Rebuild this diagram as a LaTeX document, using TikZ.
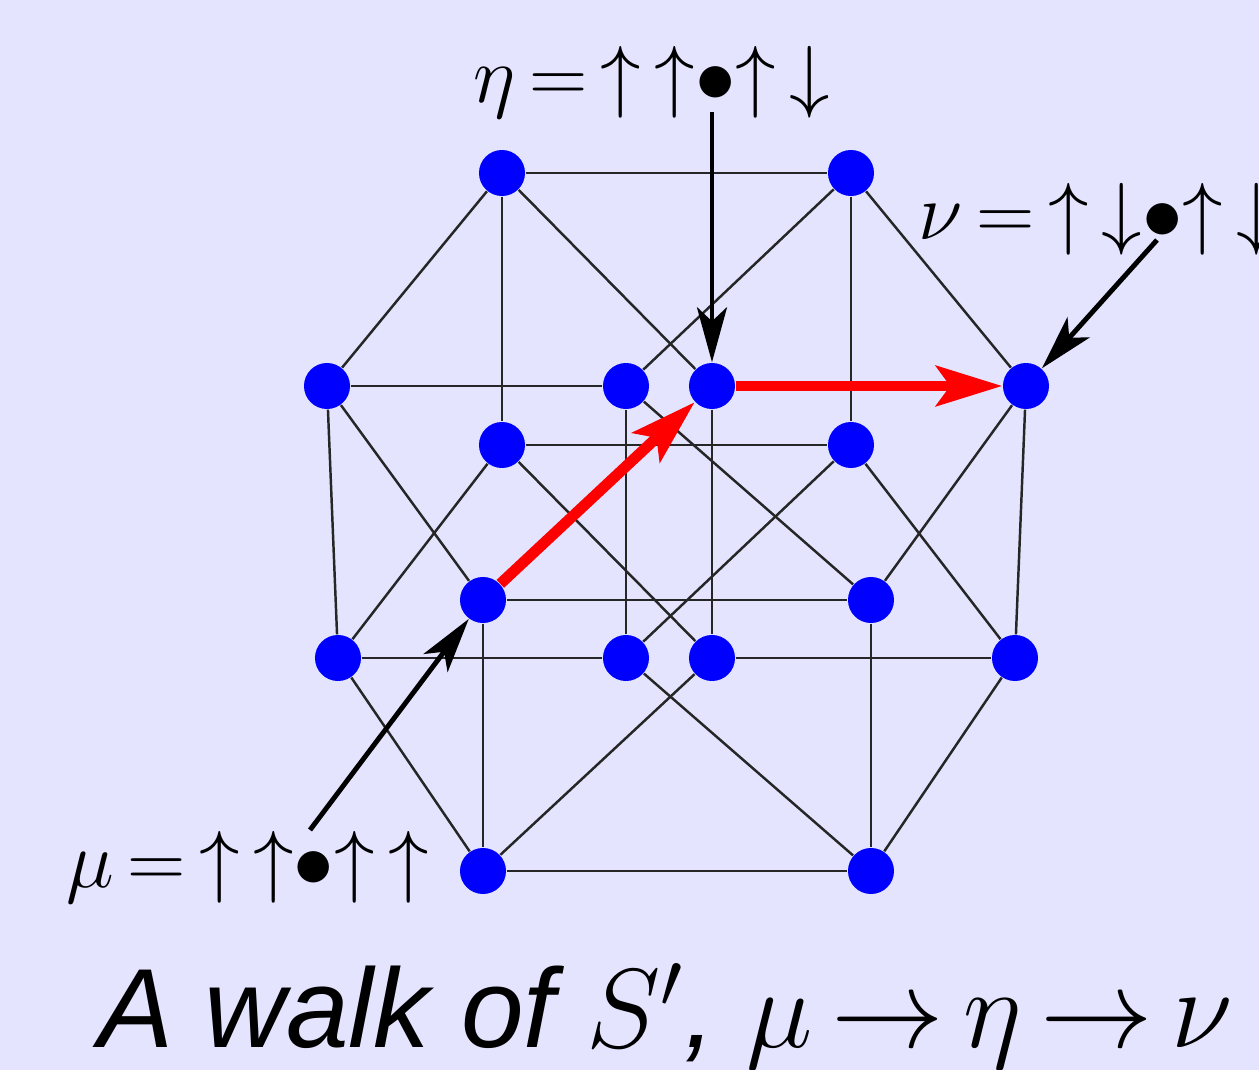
\RequirePackage{fix-cm}
\documentclass[tikz,border=0pt]{standalone}
\usepackage{fontspec}
\setsansfont{Liberation Sans}
\usepackage{amsmath,amssymb}
\usetikzlibrary{arrows.meta,positioning}
\definecolor{bgcol}{RGB}{228,228,255}

\begin{document}
\begin{tikzpicture}[x=0.01cm,y=-0.01cm,
	vtx/.style={circle,fill=blue,inner sep=0pt,minimum size=0.46cm},
	link/.style={black!85,line width=0.7pt},
	walk/.style={red,line width=3.1pt,-{Stealth[length=0.66cm,width=0.4cm,inset=0.14cm]}},
	pointer/.style={black,line width=1.4pt,-{Stealth[length=0.55cm,width=0.3cm,inset=0.14cm]}},
	lab/.style={font=\fontsize{23}{28}\selectfont,inner sep=0pt,anchor=base west}]
	\useasboundingbox (0,0) rectangle (1259,1070);
	\fill[bgcol] (0,0) rectangle (1259,1070);

	% Nodes (the 16 states)
	\node[vtx] (a) at (502,173) {};
	\node[vtx] (b) at (851,173) {};
	\node[vtx] (c) at (327,386) {};
	\node[vtx] (d) at (626,386) {};
	\node[vtx] (eta) at (712,386) {};
	\node[vtx] (nu) at (1026,386) {};
	\node[vtx] (g) at (502,445) {};
	\node[vtx] (h) at (851,445) {};
	\node[vtx] (mu) at (483,600) {};
	\node[vtx] (j) at (871,600) {};
	\node[vtx] (k) at (338,658) {};
	\node[vtx] (l) at (626,658) {};
	\node[vtx] (m) at (712,658) {};
	\node[vtx] (n) at (1015,658) {};
	\node[vtx] (o) at (483,871) {};
	\node[vtx] (p) at (871,871) {};

	% Edges
	\draw[link] (a) -- (b);
	\draw[link] (a) -- (c);
	\draw[link] (a) -- (g);
	\draw[link] (a) -- (eta);
	\draw[link] (b) -- (d);
	\draw[link] (b) -- (h);
	\draw[link] (b) -- (nu);
	\draw[link] (c) -- (d);
	\draw[link] (c) -- (mu);
	\draw[link] (c) -- (k);
	\draw[link] (d) -- (l);
	\draw[link] (d) -- (j);
	\draw[link] (eta) -- (m);
	\draw[link] (nu) -- (j);
	\draw[link] (nu) -- (n);
	\draw[link] (g) -- (h);
	\draw[link] (g) -- (k);
	\draw[link] (g) -- (m);
	\draw[link] (h) -- (l);
	\draw[link] (h) -- (n);
	\draw[link] (mu) -- (j);
	\draw[link] (mu) -- (o);
	\draw[link] (j) -- (p);
	\draw[link] (k) -- (l);
	\draw[link] (k) -- (o);
	\draw[link] (l) -- (p);
	\draw[link] (m) -- (n);
	\draw[link] (m) -- (o);
	\draw[link] (n) -- (p);
	\draw[link] (o) -- (p);

	% The walk
	\draw[walk] (mu) -- (eta);
	\draw[walk] (eta) -- (nu);

	% Labels and pointers
	\node[lab] (etalab) at (473,103) {$\eta\,{=}\,{\uparrow}\,{\uparrow}{\bullet}{\uparrow}\,{\downarrow}$};
	\node[lab] (nulab) at (918,240) {$\nu\,{=}\,{\uparrow}\,{\downarrow}{\bullet}{\uparrow}\,{\downarrow}$};
	\node[lab] (mulab) at (66,888) {$\mu\,{=}\,{\uparrow}\,{\uparrow}{\bullet}{\uparrow}\,{\uparrow}$};
	\coordinate (etatail) at (712,112);
	\coordinate (nutail) at (1157,240);
	\coordinate (mutail) at (310,830);
	\draw[pointer] (etatail) -- (eta);
	\draw[pointer] (nutail) -- (nu);
	\draw[pointer] (mutail) -- (mu);

	% Caption
	\node[font=\fontsize{32}{38}\selectfont,inner sep=0pt,anchor=base west] (caption) at (98,1048)
		{\sffamily\itshape A walk of $S'$, $\mu\mskip3mu{\rightarrow}\mskip3mu\eta\mskip3mu{\rightarrow}\mskip3mu\nu$};
\end{tikzpicture}
\end{document}
